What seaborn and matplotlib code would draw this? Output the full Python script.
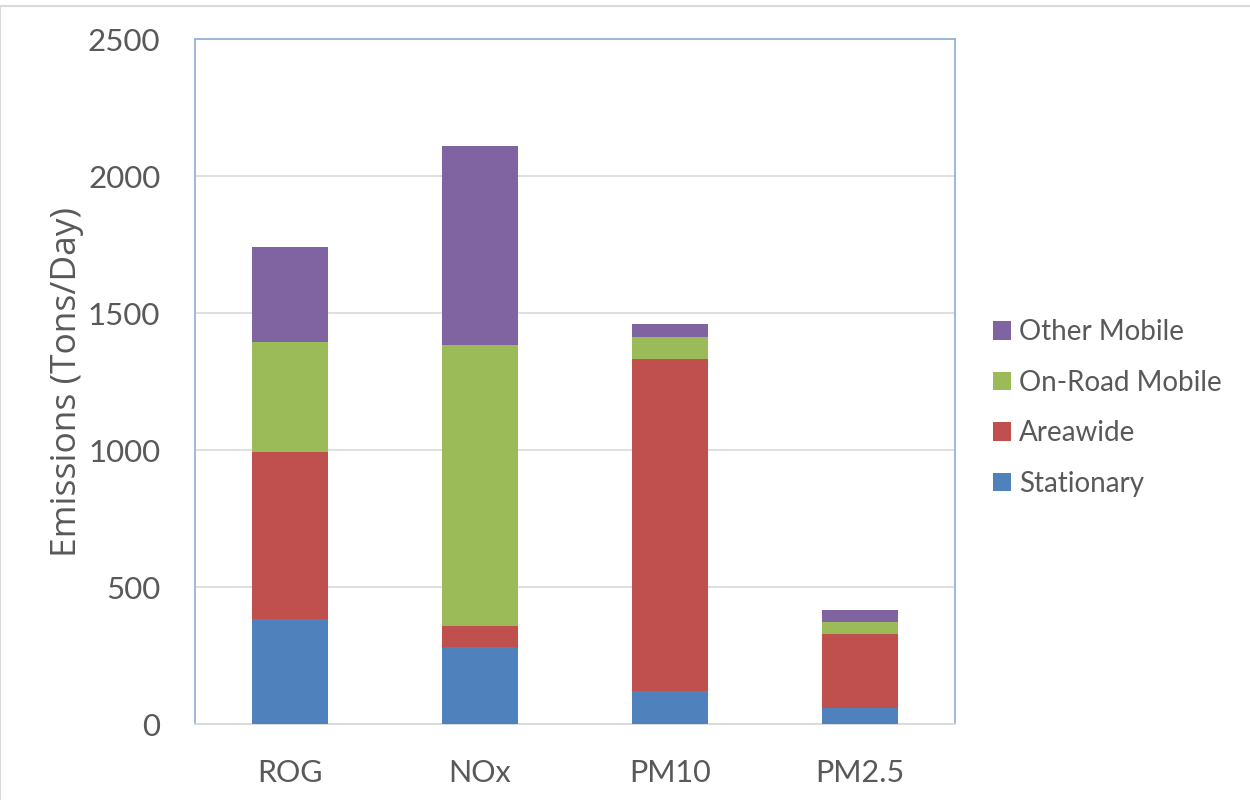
import matplotlib
matplotlib.use("Agg")
import matplotlib.pyplot as plt
from matplotlib.patches import Patch, Rectangle
import seaborn as sns
import pandas as pd
import numpy as np

categories = ["ROG", "NOx", "PM10", "PM2.5"]
stationary = [384, 281, 121, 58]
areawide = [610, 77, 1213, 271]
on_road_mobile = [402, 1024, 80, 44]
other_mobile = [344, 727, 48, 44]

series_names = ["Stationary", "Areawide", "On-Road Mobile", "Other Mobile"]
series_values = [stationary, areawide, on_road_mobile, other_mobile]
series_colors = ["#4F81BD", "#C0504D", "#9BBB59", "#8064A2"]
y_ticks = [0, 500, 1000, 1500, 2000, 2500]

sns.set_theme(style="white")
plt.rcParams["font.family"] = ["Lato", "DejaVu Sans"]

fig = plt.figure(figsize=(12.5, 8), dpi=100)
ax = fig.add_axes([0.156, 0.095, 0.608, 0.856])

cum = np.cumsum(np.array(series_values), axis=0)
# draw from the top-most cumulative down so each layer is visible
for i in range(len(series_names) - 1, -1, -1):
    df = pd.DataFrame({"cat": categories, "val": cum[i]})
    sns.barplot(data=df, x="cat", y="val", color=series_colors[i], ax=ax,
                width=0.395, saturation=1, edgecolor="none", linewidth=0,
                order=categories, zorder=3)

ax.set_xlim(-0.5, 3.5)
ax.set_ylim(0, 2500)
ax.set_yticks(y_ticks)
ax.set_yticklabels([str(t) for t in y_ticks])
ax.yaxis.grid(True, color="#D9D9D9", linewidth=1.2, zorder=0)
ax.set_axisbelow(True)
ax.tick_params(axis="y", labelsize=22.5, labelcolor="#595959", length=0, pad=25)
ax.tick_params(axis="x", labelsize=22, labelcolor="#595959", length=0, pad=25)
ax.set_xlabel("")
ax.set_ylabel("Emissions (Tons/Day)", fontsize=25.5, color="#595959",
              family=["Open Sans", "DejaVu Sans"])
ax.yaxis.set_label_coords(-0.146, 0.5)

for s in ax.spines.values():
    s.set_visible(True)
    s.set_color("#95B3D7")
    s.set_linewidth(1.3)
ax.spines["bottom"].set_color("#D9D9D9")

handles = [Patch(facecolor=series_colors[i], edgecolor="none", label=series_names[i])
           for i in range(len(series_names) - 1, -1, -1)]
leg = fig.legend(handles=handles, loc="center left", bbox_to_anchor=(0.794, 0.49),
                 frameon=False, fontsize=20, labelcolor="#595959",
                 handlelength=0.65, handleheight=0.65, handletextpad=0.3,
                 labelspacing=0.88, borderpad=0, borderaxespad=0)

# outer chart border
fig.patches.append(Rectangle((0.0, -0.01), 1.01, 1.002, transform=fig.transFigure,
                             fill=False, edgecolor="#D9D9D9", linewidth=1.5))

fig.savefig("out.png", dpi=100)
